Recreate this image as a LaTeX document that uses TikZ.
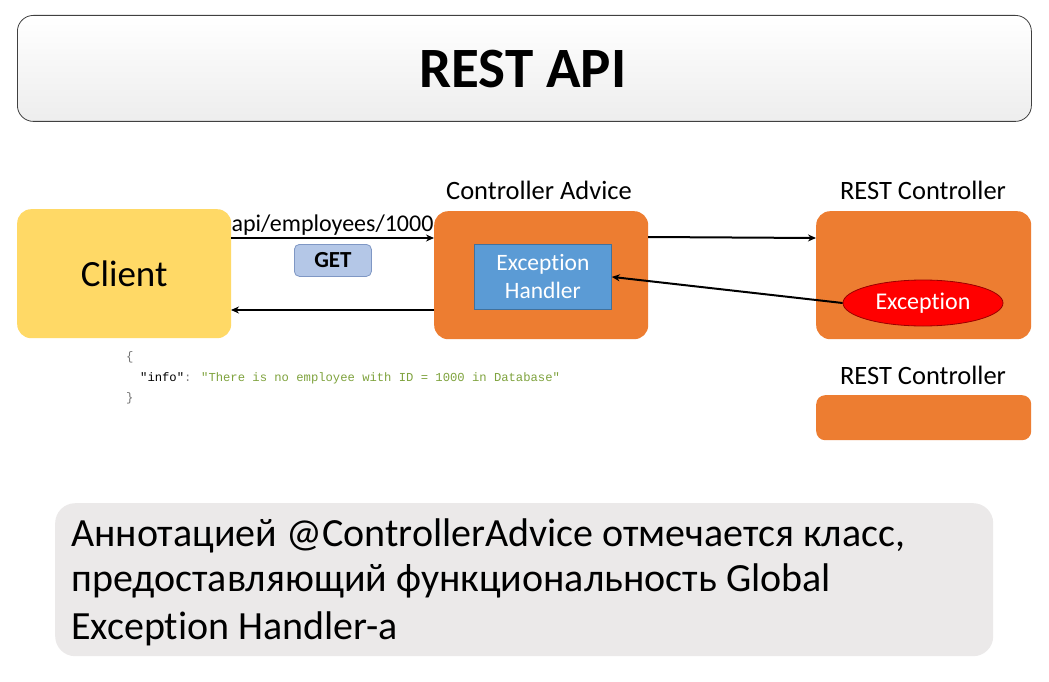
\documentclass[tikz,border=0pt]{standalone}
\usepackage{fontspec}
\setmainfont{Carlito}[Ligatures=NoCommon]
\newfontfamily\jsonfont{Liberation Mono}
\usetikzlibrary{shapes.geometric,arrows.meta}
\definecolor{orng}{HTML}{ED7D31}
\definecolor{yel}{HTML}{FFD966}
\definecolor{blu}{HTML}{5B9BD5}
\definecolor{blubord}{HTML}{41719C}
\definecolor{getfill}{HTML}{B4C7E7}
\definecolor{getbord}{HTML}{7F97C4}
\definecolor{jgreen}{HTML}{7FA33E}
\definecolor{notefill}{HTML}{EBE9E9}
\tikzset{
  box/.style={rounded corners=14pt, inner sep=0pt},
  lbl/.style={font=\fontsize{26.5}{30}\selectfont, inner sep=0pt},
  conn/.style={line width=2pt, -{Stealth[length=8pt,width=7pt]}},
  json/.style={anchor=west, font=\fontsize{12.2}{14}\selectfont\jsonfont, inner sep=0pt},
  notetxt/.style={anchor=base west, font=\fontsize{40}{47}\selectfont, inner sep=0pt},
}
\begin{document}
\begin{tikzpicture}[x=1pt,y=-1pt]
\useasboundingbox[fill=white] (0,0) rectangle (1049,682);
% title
\node[draw=black!75, line width=0.8pt, rounded corners=16pt, top color=white, bottom color=black!7,
  minimum width=1014pt, minimum height=106pt, anchor=north west] (title) at (17,15) {};
\node[font=\bfseries\fontsize{57}{64}\selectfont] (titletext) at (523,69) {REST API};
% client
\node[box, fill=yel, minimum width=214pt, minimum height=129pt, anchor=north west,
  font=\fontsize{37}{40}\selectfont] (client) at (17,209) {Client};
% controller advice
\node[box, fill=orng, minimum width=214pt, minimum height=128pt, anchor=north west] (ca) at (434,211) {};
\node[lbl] (calbl) at (539,190) {Controller Advice};
\node[draw=blubord, line width=0.8pt, fill=blu, minimum width=137pt, minimum height=65pt, anchor=north west,
  text=white, align=center, font=\fontsize{23.5}{28}\selectfont, inner sep=0pt] (eh) at (474,244) {Exception\\Handler};
% rest controller 1
\node[box, fill=orng, minimum width=215pt, minimum height=128pt, anchor=north west] (rc) at (816,211) {};
\node[lbl] (rclbl) at (923,190) {REST Controller};
\node[ellipse, draw=red!60!black, line width=0.8pt, fill=red, minimum width=160pt, minimum height=46pt,
  text=white, font=\fontsize{24}{26}\selectfont, inner sep=0pt] (exc) at (923,303) {Exception};
% rest controller 2
\node[lbl] (rc2lbl) at (923,375) {REST Controller};
\node[rounded corners=9pt, fill=orng, minimum width=215pt, minimum height=45pt, anchor=north west, inner sep=0pt] (rc2) at (816,395) {};
% GET
\node[draw=getbord, line width=0.8pt, fill=getfill, rounded corners=5pt, minimum width=77pt, minimum height=32pt,
  font=\bfseries\fontsize{23}{26}\selectfont, inner sep=0pt, anchor=north west] (get) at (294,244) {GET};
% connectors
\coordinate (c1) at (231,238);
\coordinate (c2) at (434,238);
\draw[conn] (c1) -- node[above=1pt, font=\fontsize{24}{27}\selectfont, inner sep=1pt] (url) {api/employees/1000} (c2);
\coordinate (c3) at (434,310);
\coordinate (c4) at (231,310);
\draw[conn] (c3) -- (c4);
\coordinate (c5) at (648,237);
\coordinate (c6) at (816,238);
\draw[conn] (c5) -- (c6);
\draw[conn] (exc.west) -- (eh.east);
% json
\node[json, text=black!55] (j1) at (126,357) {\{};
\node[json] (j2) at (140,378)
  {"info"\textcolor{black!50}{:} \textcolor{jgreen}{"There is no employee with ID = 1000 in Database"}};
\node[json, text=black!55] (j3) at (126,398) {\}};
% note
\node[fill=notefill, rounded corners=20pt, minimum width=938pt, minimum height=153pt, anchor=north west] (note) at (55,503) {};
\node[notetxt] (n1) at (71,546) {Аннотацией @ControllerAdvice отмечается класс,};
\node[notetxt] (n2) at (71,591) {предоставляющий функциональность Global};
\node[notetxt] (n3) at (71,639) {Exception Handler-a};
\end{tikzpicture}
\end{document}
